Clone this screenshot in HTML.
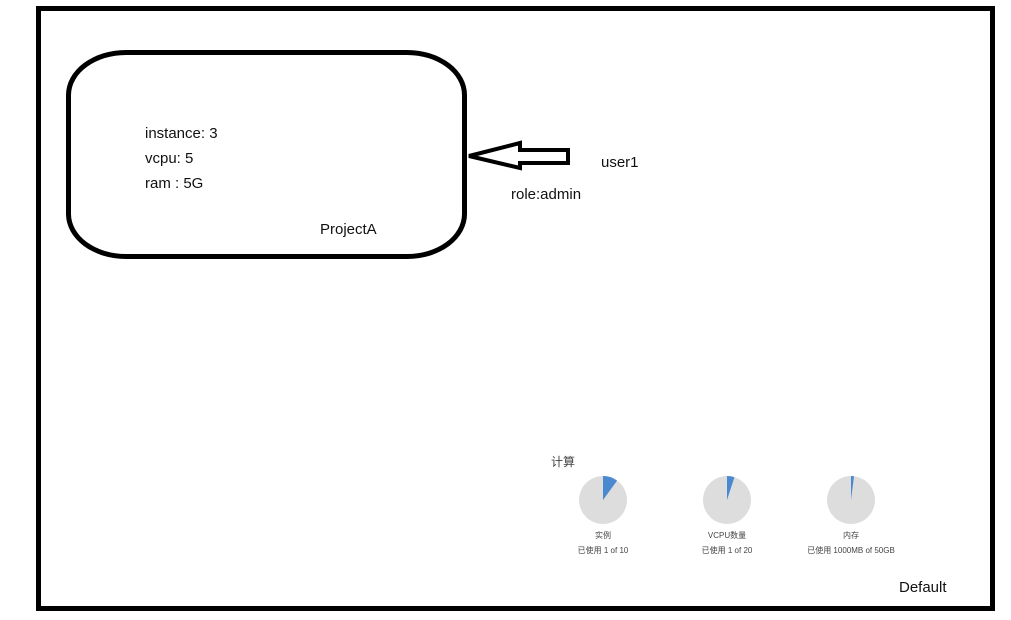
<!DOCTYPE html>
<html><head><meta charset="utf-8"><style>
body{margin:0;width:1011px;height:620px;background:#fff;position:relative;overflow:hidden;font-family:"Liberation Sans","Noto Sans CJK SC",sans-serif;}
.t{position:absolute;font-size:15px;color:#111;white-space:nowrap}
.s{position:absolute;font-size:8px;color:#444;white-space:nowrap;text-align:center;width:160px}
</style></head><body>
<div style="position:absolute;left:36px;top:6px;width:949px;height:595px;border:5px solid #000"></div>
<div style="position:absolute;left:66px;top:50px;width:391px;height:199px;border:5px solid #000;border-radius:60px/45px"></div>
<svg width="1011" height="620" style="position:absolute;left:0;top:0">
<polygon points="469,156 520,143 520,150 568,150 568,163 520,163 520,168" fill="none" stroke="#000" stroke-width="4" stroke-linejoin="miter"/>
<g>
<circle cx="603" cy="500" r="24" fill="#dddddd"/>
<path d="M603,500 L603,476 A24,24 0 0 1 617.1,480.6 Z" fill="#4a88d0"/>
<circle cx="727" cy="500" r="24" fill="#dddddd"/>
<path d="M727,500 L727,476 A24,24 0 0 1 734.4,477.2 Z" fill="#4a88d0"/>
<circle cx="851" cy="500" r="24" fill="#dddddd"/>
<path d="M851,500 L851,476 A24,24 0 0 1 854,476.2 Z" fill="#4a88d0"/>
</g>
</svg>
<div class="t" style="left:145px;top:125px">instance: 3</div>
<div class="t" style="left:145px;top:150px">vcpu: 5</div>
<div class="t" style="left:145px;top:175px">ram : 5G</div>
<div class="t" style="left:320px;top:221px">ProjectA</div>
<div class="t" style="left:601px;top:154px">user1</div>
<div class="t" style="left:511px;top:186px">role:admin</div>
<div class="t" style="left:899px;top:579px">Default</div>
<div class="t" style="left:551px;top:453px;font-size:12px;color:#444">计算</div>
<div class="s" style="left:523px;top:530px">实例</div>
<div class="s" style="left:523px;top:545px">已使用 1 of 10</div>
<div class="s" style="left:647px;top:530px">VCPU数量</div>
<div class="s" style="left:647px;top:545px">已使用 1 of 20</div>
<div class="s" style="left:771px;top:530px">内存</div>
<div class="s" style="left:771px;top:545px">已使用 1000MB of 50GB</div>
</body></html>
